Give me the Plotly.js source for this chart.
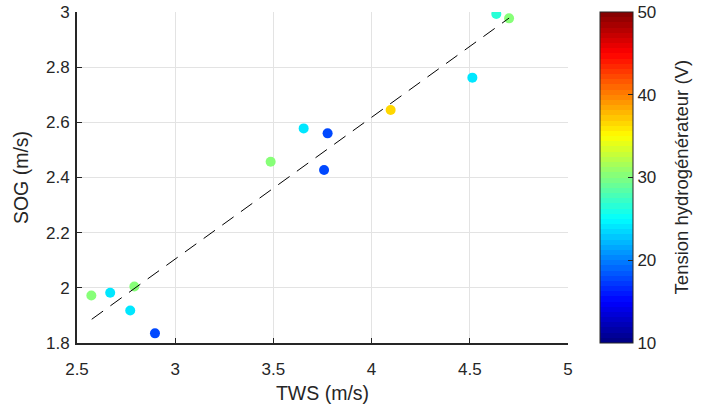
<!DOCTYPE html>
<html>
<head>
<meta charset="utf-8">
<script src="https://cdn.plot.ly/plotly-3.0.1.min.js"></script>
<style>html,body{margin:0;padding:0;background:#fff;}#chart{width:712px;height:414px;}</style>
</head>
<body>
<div id="chart"></div>
<script>
// Data
var tws     = [2.573, 2.669, 2.792, 2.771, 2.897, 3.486, 3.654, 3.776, 3.758, 4.097, 4.513, 4.635, 4.700];
var sog     = [1.972, 1.982, 2.005, 1.918, 1.835, 2.457, 2.578, 2.560, 2.427, 2.645, 2.762, 2.993, 2.977];
var tension = [30.5, 24.0, 30.5, 24.0, 18.0, 30.5, 24.0, 18.0, 18.0, 36.5, 24.0, 26.5, 30.5];
var fitX = [2.575, 4.700];
var fitY = [1.886, 2.978];
var xTicks = [2.5, 3, 3.5, 4, 4.5, 5];
var yTicks = [1.8, 2, 2.2, 2.4, 2.6, 2.8, 3];
var cbTicks = [10, 20, 30, 40, 50];
var cbTitle = 'Tension hydrogénérateur (V)';

// MATLAB-like jet(64) discrete colorscale
function clamp(v){return Math.max(0, Math.min(1, v));}
function jet(t){
  var r = clamp(1.5 - Math.abs(4*t - 3));
  var g = clamp(1.5 - Math.abs(4*t - 2));
  var b = clamp(1.5 - Math.abs(4*t - 1));
  return 'rgb(' + Math.round(r*255) + ',' + Math.round(g*255) + ',' + Math.round(b*255) + ')';
}
var N = 64, jetScale = [];
for (var i = 0; i < N; i++) {
  var c = jet((i + 0.5) / N);
  jetScale.push([i / N, c]);
  jetScale.push([(i + 1) / N, c]);
}

var font = 'Liberation Sans, Arial, Helvetica, sans-serif';
var txt = '#262626';

var traces = [
  {
    x: tws, y: sog, type: 'scatter', mode: 'markers',
    marker: {
      size: 10, color: tension, colorscale: jetScale, cmin: 10, cmax: 50,
      line: {width: 0},
      showscale: true,
      colorbar: {
        x: 1.065, xanchor: 'left', xpad: 0, y: 0.5, yanchor: 'middle', ypad: 0,
        len: 1, lenmode: 'fraction', thickness: 33, thicknessmode: 'pixels',
        outlinewidth: 1, outlinecolor: '#262626',
        tickvals: cbTicks, ticks: 'inside', ticklen: 5, tickcolor: '#262626', tickwidth: 1,
        tickfont: {family: font, size: 17, color: txt}
      }
    },
    showlegend: false, hoverinfo: 'x+y'
  },
  {
    x: fitX, y: fitY, type: 'scatter', mode: 'lines',
    line: {color: '#000', width: 1, dash: '14px,9px'},
    showlegend: false
  }
];

var layout = {
  width: 712, height: 414,
  margin: {l: 77, r: 144, t: 12, b: 71},
  paper_bgcolor: '#fff', plot_bgcolor: '#fff',
  font: {family: font, color: txt},
  xaxis: {
    range: [2.5, 5], tickvals: xTicks, ticktext: xTicks.map(String),
    showgrid: true, gridcolor: '#e3e3e3', gridwidth: 1,
    zeroline: false, showline: true, linecolor: '#262626', linewidth: 2,
    ticks: 'inside', ticklen: 5, tickcolor: '#262626',
    ticklabelstandoff: 10,
    tickfont: {family: font, size: 17, color: txt},
    title: {text: 'TWS (m/s)', font: {family: font, size: 19.5, color: txt}, standoff: 8}
  },
  yaxis: {
    range: [1.8, 3], tickvals: yTicks, ticktext: yTicks.map(String),
    showgrid: true, gridcolor: '#e3e3e3', gridwidth: 1,
    zeroline: false, showline: true, linecolor: '#262626', linewidth: 2,
    ticks: 'inside', ticklen: 5, tickcolor: '#262626',
    ticklabelstandoff: 2,
    tickfont: {family: font, size: 17, color: txt},
    title: {text: 'SOG (m/s)', font: {family: font, size: 19.5, color: txt}, standoff: 12}
  },
  annotations: [{
    text: cbTitle, xref: 'paper', yref: 'paper', x: 1.232, y: 0.5,
    xanchor: 'center', yanchor: 'middle', textangle: -90, showarrow: false,
    font: {family: font, size: 18.5, color: txt}
  }]
};

Plotly.newPlot('chart', traces, layout, {staticPlot: true, displayModeBar: false});
</script>
</body>
</html>
